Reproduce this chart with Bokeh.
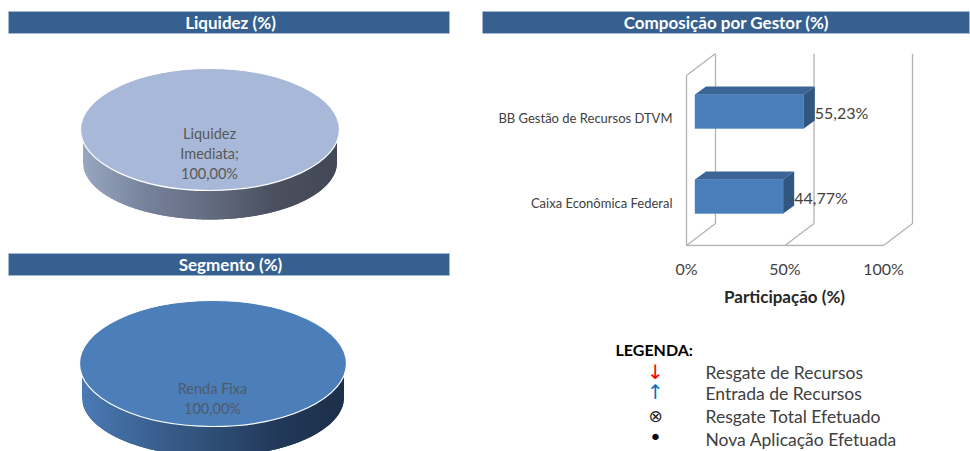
from bokeh.plotting import figure
from bokeh.layouts import row, column
from bokeh.models import Range1d, FixedTicker
from bokeh.core.properties import value
from bokeh.embed import file_html
from bokeh.resources import INLINE
import numpy as np

FONT = "Lato"
HEADER = "#35608f"

liquidez_label = ["Liquidez", "Imediata;", "100,00%"]
segmento_label = ["Renda Fixa", "100,00%"]
gestores = ["Caixa Econômica Federal", "BB Gestão de Recursos DTVM"]
participacao = [44.77, 55.23]
rotulos = ["44,77%", "55,23%"]
eixo_ticks = [0, 50, 100]
eixo_titulo = "Participação (%)"
legenda_titulo = "LEGENDA:"
legenda_textos = ["Resgate de Recursos", "Entrada de Recursos", "Resgate Total Efetuado", "Nova Aplicação Efetuada"]
legenda_simbolos = ["↓", "↑", "⊗", "•"]
legenda_cores = ["#ff0000", "#0070c0", "#262626", "#000000"]

RIGHT = 970
BOTTOM = 451


def canvas(x0, x1, y0, y1):
    """A figure whose data coordinates are the picture's own pixels."""
    p = figure(width=x1 - x0, height=y1 - y0, x_range=Range1d(x0, x1), y_range=Range1d(y1, y0),
               output_backend="svg", toolbar_location=None, min_border=0, frame_align=False,
               outline_line_color=None, x_axis_type=None, y_axis_type=None)
    p.grid.visible = False
    return p


def header(p, x0, x1, y0, y1, cx, label):
    p.quad(left=[x0], right=[x1], top=[y0], bottom=[y1], fill_color=HEADER, line_color="#a9bcd3", line_width=0.6)
    p.text(x=[cx], y=[(y0 + y1) / 2], text=[label], text_color="white", text_font=value(FONT),
           text_font_style="bold", text_font_size="17px", text_align="center", text_baseline="middle")


def lerp(stops, t):
    xs = np.linspace(0, 1, len(stops))
    return "#%02x%02x%02x" % tuple(int(round(np.interp(t, xs, [s[i] for s in stops]))) for i in range(3))


def disc(p, cx, cy, rx, ry, depth, top_color, stops):
    rx2, ry2 = rx - 2.5, ry - 4
    cy2 = cy + depth
    xs, ys, cs = [], [], []
    edges = np.arange(cx - rx2, cx + rx2, 1.0)
    for a in edges:
        b = min(a + 2.0, cx + rx2)
        g = np.linspace(a, b, 4)
        t = cy + ry * np.sqrt(np.clip(1 - ((g - cx) / rx) ** 2, 0, 1)) - 2
        u = cy2 + ry2 * np.sqrt(np.clip(1 - ((g - cx) / rx2) ** 2, 0, 1))
        xs.append(list(g) + list(g[::-1]))
        ys.append(list(t) + list(u[::-1]))
        cs.append(lerp(stops, (a - edges[0]) / (edges[-1] - edges[0])))
    p.patches(xs, ys, fill_color=cs, line_color=None)
    p.ellipse(x=[cx], y=[cy], width=2 * rx, height=2 * ry, fill_color=top_color,
              line_color="white", line_width=1.2)


def pie_text(p, cx, ys, lines, color):
    p.text(x=[cx] * len(lines), y=ys, text=lines, text_color=color, text_font=value(FONT),
           text_font_size="14.5px", text_align="center", text_baseline="middle")


# left column
top_left = canvas(0, 480, 0, 250)
header(top_left, 8, 449, 11, 33, 230, "Liquidez (%)")
disc(top_left, 209.5, 129, 129.5, 61, 33, "#a8b8d8",
     [(152, 166, 192), (118, 130, 155), (98, 107, 128), (74, 80, 95), (66, 72, 86)])
pie_text(top_left, 209, [133, 153, 173], liquidez_label, "#595959")

bottom_left = canvas(0, 480, 250, BOTTOM)
header(bottom_left, 8, 449, 253, 275, 230, "Segmento (%)")
disc(bottom_left, 212.5, 363, 133.5, 63, 34, "#4c7eb9",
     [(74, 122, 180), (60, 98, 146), (46, 78, 118), (34, 56, 88), (28, 47, 74)])
pie_text(bottom_left, 212, [388, 408], segmento_label, "#4f5b6b")

# right column: header
top_right = canvas(480, RIGHT, 0, 38)
header(top_right, 482, 969, 11, 33, 726, "Composição por Gestor (%)")

# right column: bar chart
PX = 1 / 1.97    # percent per pixel
PY = 1 / 85      # category units per pixel
bars = figure(width=RIGHT - 480, height=247, x_range=Range1d(-6 * PX, (RIGHT - 686) * PX), y_range=Range1d(-1 * PY, 192 * PY),
              output_backend="svg", toolbar_location=None, outline_line_color=None, frame_align=False,
              min_border_left=200, min_border_right=0, min_border_top=15, min_border_bottom=39)
bars.grid.visible = False
wall = "#b3b3b3"
dx, dy = 29 * PX, 22 * PY
h = 170 * PY
for t in eixo_ticks:
    bars.line([t, t + dx, t + dx], [0, dy, dy + h], line_color=wall, line_width=1.3)
bars.line([0, 100], [0, 0], line_color=wall, line_width=1.3)
bars.line([0, 0, dx], [0, h, dy + h], line_color=wall, line_width=1.3)

ys = [0.5 + i for i in range(len(gestores))]
off_x, off_y = 8.5 * PX, 6.5 * PY
half = 17 * PY
bdx, bdy = 11 * PX, 8 * PY
bars.hbar(y=[v + off_y for v in ys], left=off_x, right=[v + off_x for v in participacao], height=2 * half,
          fill_color="#4a7ebb", line_color="#5b8cc6", line_width=0.5)
tops_x, tops_y, side_x, side_y = [], [], [], []
for v, y in zip(participacao, ys):
    r = v + off_x
    t = y + off_y + half
    b = y + off_y - half
    tops_x.append([off_x, r, r + bdx, off_x + bdx])
    tops_y.append([t, t, t + bdy, t + bdy])
    side_x.append([r, r + bdx, r + bdx, r])
    side_y.append([t, t + bdy, b + bdy, b])
bars.patches(tops_x, tops_y, fill_color="#3a6595", line_color=None)
bars.patches(side_x, side_y, fill_color="#315680", line_color=None)
bars.text(x=[v + off_x + bdx for v in participacao], y=[y + 5.5 * PY for y in ys], text=rotulos,
          text_color="#404040", text_font=value(FONT), text_font_size="16px", text_baseline="middle")

bars.xaxis.ticker = FixedTicker(ticks=eixo_ticks)
bars.xaxis.major_label_overrides = {t: f"{t}%" for t in eixo_ticks}
bars.xaxis.axis_line_color = None
bars.xaxis.major_tick_line_color = None
bars.xaxis.minor_tick_line_color = None
bars.xaxis.major_label_standoff = 6
bars.xaxis.major_label_text_font = FONT
bars.xaxis.major_label_text_font_size = "16px"
bars.xaxis.major_label_text_color = "#404040"
bars.yaxis.ticker = FixedTicker(ticks=ys)
bars.yaxis.major_label_overrides = dict(zip(ys, gestores))
bars.yaxis.axis_line_color = None
bars.yaxis.major_tick_line_color = None
bars.yaxis.minor_tick_line_color = None
bars.yaxis.major_label_standoff = 2
bars.yaxis.major_label_text_font = FONT
bars.yaxis.major_label_text_font_size = "13px"
bars.yaxis.major_label_text_color = "#404040"

# right column: axis title and legend
leg = canvas(480, RIGHT, 285, BOTTOM)
leg.text(x=[784], y=[296], text=[eixo_titulo], text_color="#262626", text_font=value(FONT),
         text_font_style="bold", text_font_size="17px", text_align="center", text_baseline="middle")
leg.text(x=[615], y=[349], text=[legenda_titulo], text_color="#000000", text_font=value(FONT),
         text_font_style="bold", text_font_size="16px", text_baseline="middle")
row_y = [372, 393, 416, 439]
leg.text(x=[705] * 4, y=row_y, text=legenda_textos, text_color="#404040", text_font=value(FONT),
         text_font_size="17.5px", text_baseline="middle")
leg.text(x=[655] * 4, y=[371, 391, 415, 437], text=legenda_simbolos, text_color=legenda_cores,
         text_font=value("DejaVu Sans"), text_font_size=["20px", "20px", "17px", "22px"],
         text_align="center", text_baseline="middle")

page = row(column(top_left, bottom_left), column(top_right, bars, leg))
open("out.html", "w").write(file_html(page, INLINE))
